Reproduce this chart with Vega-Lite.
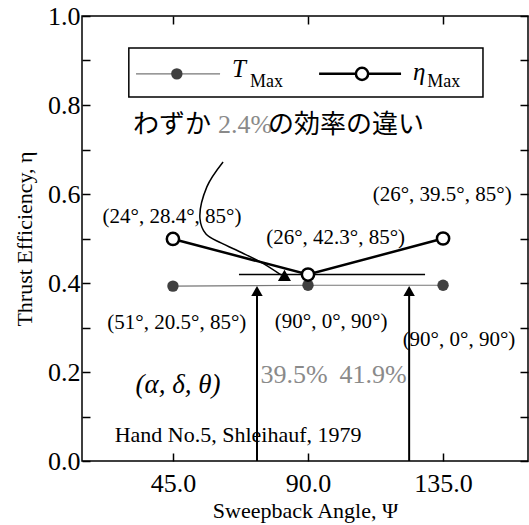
{
  "$schema": "https://vega.github.io/schema/vega-lite/v6.json",
  "width": 446,
  "height": 445,
  "autosize": {"type": "none"},
  "padding": {"left": 82, "top": 16, "right": 1, "bottom": 64},
  "background": "white",
  "config": {"view": {"stroke": "black", "strokeWidth": 1.5}, "font": "Liberation Serif"},
  "datasets": {
    "tmax": [{"x": 45, "y": 0.393}, {"x": 90, "y": 0.395}, {"x": 135, "y": 0.395}],
    "eta": [{"x": 45, "y": 0.499}, {"x": 90, "y": 0.419}, {"x": 135, "y": 0.5}],
    "hline": [{"x": 67, "x2": 129, "y": 0.419}],
    "shafts": [{"x": 73, "y": 0, "y2": 0.385}, {"x": 123.7, "y": 0, "y2": 0.385}],
    "heads": [{"x": 73, "y": 0.382}, {"x": 123.7, "y": 0.382}],
    "curve": [
      {"o": 1, "x": 61.7, "y": 0.672}, {"o": 2, "x": 56.3, "y": 0.616}, {"o": 3, "x": 54, "y": 0.545},
      {"o": 4, "x": 56, "y": 0.51}, {"o": 5, "x": 61, "y": 0.49}, {"o": 6, "x": 68, "y": 0.468},
      {"o": 7, "x": 75, "y": 0.444}, {"o": 8, "x": 81, "y": 0.418}
    ],
    "curvehead": [{"x": 82.7, "y": 0.411}],
    "legbox": [{"x": 30.3, "x2": 148.3, "y": 0.818, "y2": 0.928}],
    "legTline": [{"x": 32.7, "x2": 60.7, "y": 0.87}],
    "legTdot": [{"x": 46.3, "y": 0.87}],
    "legEline": [{"x": 93.7, "x2": 121, "y": 0.87}],
    "legEdot": [{"x": 108, "y": 0.87}],
    "legItalic": [{"x": 64.7, "y": 0.88, "t": "T"}, {"x": 125, "y": 0.874, "t": "η"}],
    "legSub": [{"x": 70.7, "y": 0.852, "t": "Max"}, {"x": 129.7, "y": 0.852, "t": "Max"}],
    "coords": [
      {"x": 44.7, "y": 0.548, "t": "(24°, 28.4°, 85°)"},
      {"x": 134.7, "y": 0.598, "t": "(26°, 39.5°, 85°)"},
      {"x": 99.2, "y": 0.501, "t": "(26°, 42.3°, 85°)"},
      {"x": 46.3, "y": 0.31, "t": "(51°, 20.5°, 85°)"},
      {"x": 97.7, "y": 0.312, "t": "(90°, 0°, 90°)"},
      {"x": 140.3, "y": 0.272, "t": "(90°, 0°, 90°)"}
    ],
    "greek": [{"x": 46.7, "y": 0.171, "t": "(α, δ, θ)"}],
    "hand": [{"x": 66.7, "y": 0.058, "t": "Hand No.5, Shleihauf, 1979"}],
    "gray": [{"x": 74.2, "y": 0.193, "t": "39.5%"}, {"x": 100.5, "y": 0.193, "t": "41.9%"}, {"x": 60, "y": 0.755, "t": "2.4%"}],
    "cjk": [{"x": 31.7, "y": 0.755, "t": "わずか"}, {"x": 76.7, "y": 0.755, "t": "の効率の違い"}]
  },
  "layer": [
    {
      "data": {"name": "tmax"},
      "mark": {"type": "line", "color": "#777777", "strokeWidth": 1.2},
      "encoding": {
        "x": {"field": "x", "type": "quantitative", "scale": {"domain": [14.7, 163.3], "nice": false, "zero": false},
          "axis": {"orient": "bottom", "offset": -8, "values": [45, 90, 135], "format": ".1f", "tickSize": 8, "tickColor": "black", "tickWidth": 1.5,
            "labelPadding": 9, "labelFontSize": 26, "labelColor": "black", "labelFont": "Liberation Serif", "labelFlush": false, "labelOverlap": false,
            "domain": false, "grid": false, "title": "Sweepback Angle, Ψ", "titleFontSize": 22, "titleFont": "Liberation Serif",
            "titleFontWeight": "normal", "titleColor": "black", "titlePadding": 4}},
        "y": {"field": "y", "type": "quantitative", "scale": {"domain": [0, 1], "nice": false, "zero": false},
          "axis": {"orient": "left", "offset": -8, "values": [0, 0.1, 0.2, 0.3, 0.4, 0.5, 0.6, 0.7, 0.8, 0.9, 1.0],
            "labelExpr": "abs(round(datum.value*10) % 2) == 0 ? format(datum.value, '.1f') : ''",
            "tickSize": 8, "tickColor": "black", "tickWidth": 1.5, "labelPadding": 2, "labelFontSize": 26, "labelColor": "black",
            "labelFont": "Liberation Serif", "labelFlush": false, "labelOverlap": false, "domain": false, "grid": false,
            "title": "Thrust Efficiency, η", "titleFontSize": 22, "titleFont": "Liberation Serif", "titleFontWeight": "normal",
            "titleColor": "black", "titlePadding": 11}}
      }
    },
    {
      "data": {"name": "tmax"},
      "mark": {"type": "point", "opacity": 0},
      "encoding": {
        "x": {"field": "x", "type": "quantitative", "scale": {"domain": [14.7, 163.3], "nice": false, "zero": false},
          "axis": {"orient": "top", "offset": -8, "values": [45, 90, 135], "labels": false, "tickSize": 8, "tickColor": "black", "tickWidth": 1.5, "domain": false, "grid": false, "title": null}},
        "y": {"field": "y", "type": "quantitative", "scale": {"domain": [0, 1], "nice": false, "zero": false},
          "axis": {"orient": "right", "offset": -8, "values": [0, 0.1, 0.2, 0.3, 0.4, 0.5, 0.6, 0.7, 0.8, 0.9, 1.0], "labels": false, "tickSize": 8, "tickColor": "black", "tickWidth": 1.5, "domain": false, "grid": false, "title": null}}
      }
    },
    {
      "data": {"name": "eta"},
      "mark": {"type": "line", "color": "black", "strokeWidth": 2.5},
      "encoding": {
        "x": {"field": "x", "type": "quantitative", "scale": {"domain": [14.7, 163.3], "nice": false, "zero": false}, "axis": null},
        "y": {"field": "y", "type": "quantitative", "scale": {"domain": [0, 1], "nice": false, "zero": false}, "axis": null}
      }
    },
    {
      "data": {"name": "hline"},
      "mark": {"type": "rule", "color": "black", "strokeWidth": 1.5},
      "encoding": {
        "x": {"field": "x", "type": "quantitative", "scale": {"domain": [14.7, 163.3], "nice": false, "zero": false}, "axis": null},
        "x2": {"field": "x2"},
        "y": {"field": "y", "type": "quantitative", "scale": {"domain": [0, 1], "nice": false, "zero": false}, "axis": null}
      }
    },
    {
      "data": {"name": "shafts"},
      "mark": {"type": "rule", "color": "black", "strokeWidth": 2},
      "encoding": {
        "x": {"field": "x", "type": "quantitative", "scale": {"domain": [14.7, 163.3], "nice": false, "zero": false}, "axis": null},
        "y": {"field": "y", "type": "quantitative", "scale": {"domain": [0, 1], "nice": false, "zero": false}, "axis": null},
        "y2": {"field": "y2"}
      }
    },
    {
      "data": {"name": "heads"},
      "mark": {"type": "point", "shape": "triangle-up", "filled": true, "color": "black", "size": 130, "opacity": 1},
      "encoding": {
        "x": {"field": "x", "type": "quantitative", "scale": {"domain": [14.7, 163.3], "nice": false, "zero": false}, "axis": null},
        "y": {"field": "y", "type": "quantitative", "scale": {"domain": [0, 1], "nice": false, "zero": false}, "axis": null}
      }
    },
    {
      "data": {"name": "curve"},
      "mark": {"type": "line", "color": "black", "strokeWidth": 1.5, "interpolate": "catmull-rom"},
      "encoding": {
        "x": {"field": "x", "type": "quantitative", "scale": {"domain": [14.7, 163.3], "nice": false, "zero": false}, "axis": null},
        "y": {"field": "y", "type": "quantitative", "scale": {"domain": [0, 1], "nice": false, "zero": false}, "axis": null},
        "order": {"field": "o", "type": "quantitative"}
      }
    },
    {
      "data": {"name": "curvehead"},
      "mark": {"type": "point", "shape": "triangle-right", "angle": 30, "filled": true, "color": "black", "size": 170, "opacity": 1},
      "encoding": {
        "x": {"field": "x", "type": "quantitative", "scale": {"domain": [14.7, 163.3], "nice": false, "zero": false}, "axis": null},
        "y": {"field": "y", "type": "quantitative", "scale": {"domain": [0, 1], "nice": false, "zero": false}, "axis": null}
      }
    },
    {
      "data": {"name": "tmax"},
      "mark": {"type": "point", "filled": true, "color": "#404040", "size": 130, "opacity": 1},
      "encoding": {
        "x": {"field": "x", "type": "quantitative", "scale": {"domain": [14.7, 163.3], "nice": false, "zero": false}, "axis": null},
        "y": {"field": "y", "type": "quantitative", "scale": {"domain": [0, 1], "nice": false, "zero": false}, "axis": null}
      }
    },
    {
      "data": {"name": "eta"},
      "mark": {"type": "point", "filled": true, "fill": "white", "stroke": "black", "strokeWidth": 2.5, "size": 150, "opacity": 1},
      "encoding": {
        "x": {"field": "x", "type": "quantitative", "scale": {"domain": [14.7, 163.3], "nice": false, "zero": false}, "axis": null},
        "y": {"field": "y", "type": "quantitative", "scale": {"domain": [0, 1], "nice": false, "zero": false}, "axis": null}
      }
    },
    {
      "data": {"name": "legbox"},
      "mark": {"type": "rect", "fill": "white", "stroke": "black", "strokeWidth": 1.5},
      "encoding": {
        "x": {"field": "x", "type": "quantitative", "scale": {"domain": [14.7, 163.3], "nice": false, "zero": false}, "axis": null},
        "x2": {"field": "x2"},
        "y": {"field": "y", "type": "quantitative", "scale": {"domain": [0, 1], "nice": false, "zero": false}, "axis": null},
        "y2": {"field": "y2"}
      }
    },
    {
      "data": {"name": "legTline"},
      "mark": {"type": "rule", "color": "#777777", "strokeWidth": 1.2},
      "encoding": {
        "x": {"field": "x", "type": "quantitative", "scale": {"domain": [14.7, 163.3], "nice": false, "zero": false}, "axis": null},
        "x2": {"field": "x2"},
        "y": {"field": "y", "type": "quantitative", "scale": {"domain": [0, 1], "nice": false, "zero": false}, "axis": null}
      }
    },
    {
      "data": {"name": "legEline"},
      "mark": {"type": "rule", "color": "black", "strokeWidth": 2.5},
      "encoding": {
        "x": {"field": "x", "type": "quantitative", "scale": {"domain": [14.7, 163.3], "nice": false, "zero": false}, "axis": null},
        "x2": {"field": "x2"},
        "y": {"field": "y", "type": "quantitative", "scale": {"domain": [0, 1], "nice": false, "zero": false}, "axis": null}
      }
    },
    {
      "data": {"name": "legTdot"},
      "mark": {"type": "point", "filled": true, "color": "#404040", "size": 130, "opacity": 1},
      "encoding": {
        "x": {"field": "x", "type": "quantitative", "scale": {"domain": [14.7, 163.3], "nice": false, "zero": false}, "axis": null},
        "y": {"field": "y", "type": "quantitative", "scale": {"domain": [0, 1], "nice": false, "zero": false}, "axis": null}
      }
    },
    {
      "data": {"name": "legEdot"},
      "mark": {"type": "point", "filled": true, "fill": "white", "stroke": "black", "strokeWidth": 2.5, "size": 150, "opacity": 1},
      "encoding": {
        "x": {"field": "x", "type": "quantitative", "scale": {"domain": [14.7, 163.3], "nice": false, "zero": false}, "axis": null},
        "y": {"field": "y", "type": "quantitative", "scale": {"domain": [0, 1], "nice": false, "zero": false}, "axis": null}
      }
    },
    {
      "data": {"name": "legItalic"},
      "mark": {"type": "text", "font": "Liberation Serif", "fontStyle": "italic", "fontSize": 25, "align": "left", "baseline": "middle", "color": "black"},
      "encoding": {
        "x": {"field": "x", "type": "quantitative", "scale": {"domain": [14.7, 163.3], "nice": false, "zero": false}, "axis": null},
        "y": {"field": "y", "type": "quantitative", "scale": {"domain": [0, 1], "nice": false, "zero": false}, "axis": null},
        "text": {"field": "t"}
      }
    },
    {
      "data": {"name": "legSub"},
      "mark": {"type": "text", "font": "Liberation Serif", "fontSize": 18, "align": "left", "baseline": "middle", "color": "black"},
      "encoding": {
        "x": {"field": "x", "type": "quantitative", "scale": {"domain": [14.7, 163.3], "nice": false, "zero": false}, "axis": null},
        "y": {"field": "y", "type": "quantitative", "scale": {"domain": [0, 1], "nice": false, "zero": false}, "axis": null},
        "text": {"field": "t"}
      }
    },
    {
      "data": {"name": "coords"},
      "mark": {"type": "text", "font": "Liberation Serif", "fontSize": 21, "align": "center", "baseline": "middle", "color": "black"},
      "encoding": {
        "x": {"field": "x", "type": "quantitative", "scale": {"domain": [14.7, 163.3], "nice": false, "zero": false}, "axis": null},
        "y": {"field": "y", "type": "quantitative", "scale": {"domain": [0, 1], "nice": false, "zero": false}, "axis": null},
        "text": {"field": "t"}
      }
    },
    {
      "data": {"name": "greek"},
      "mark": {"type": "text", "font": "Liberation Serif", "fontStyle": "italic", "fontSize": 27, "align": "center", "baseline": "middle", "color": "black"},
      "encoding": {
        "x": {"field": "x", "type": "quantitative", "scale": {"domain": [14.7, 163.3], "nice": false, "zero": false}, "axis": null},
        "y": {"field": "y", "type": "quantitative", "scale": {"domain": [0, 1], "nice": false, "zero": false}, "axis": null},
        "text": {"field": "t"}
      }
    },
    {
      "data": {"name": "hand"},
      "mark": {"type": "text", "font": "Liberation Serif", "fontSize": 22, "align": "center", "baseline": "middle", "color": "black"},
      "encoding": {
        "x": {"field": "x", "type": "quantitative", "scale": {"domain": [14.7, 163.3], "nice": false, "zero": false}, "axis": null},
        "y": {"field": "y", "type": "quantitative", "scale": {"domain": [0, 1], "nice": false, "zero": false}, "axis": null},
        "text": {"field": "t"}
      }
    },
    {
      "data": {"name": "gray"},
      "mark": {"type": "text", "font": "Liberation Serif", "fontSize": 26, "align": "left", "baseline": "middle", "color": "#8a8a8a"},
      "encoding": {
        "x": {"field": "x", "type": "quantitative", "scale": {"domain": [14.7, 163.3], "nice": false, "zero": false}, "axis": null},
        "y": {"field": "y", "type": "quantitative", "scale": {"domain": [0, 1], "nice": false, "zero": false}, "axis": null},
        "text": {"field": "t"}
      }
    },
    {
      "data": {"name": "cjk"},
      "mark": {"type": "text", "font": "Noto Sans CJK JP", "fontSize": 26, "align": "left", "baseline": "middle", "color": "black"},
      "encoding": {
        "x": {"field": "x", "type": "quantitative", "scale": {"domain": [14.7, 163.3], "nice": false, "zero": false}, "axis": null},
        "y": {"field": "y", "type": "quantitative", "scale": {"domain": [0, 1], "nice": false, "zero": false}, "axis": null},
        "text": {"field": "t"}
      }
    }
  ],
  "resolve": {"axis": {"x": "independent", "y": "independent"}}
}
